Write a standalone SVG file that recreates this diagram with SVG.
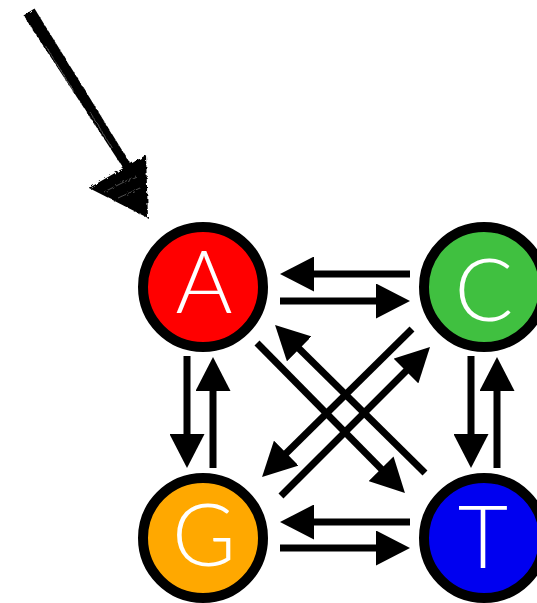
<svg xmlns="http://www.w3.org/2000/svg" width="537" height="603" viewBox="0 0 537 603">
  <style>
    .arrow { stroke: #000; stroke-width: 7; fill: none; marker-end: url(#head); }
    .ring { stroke: #000; stroke-width: 10; }
    .lbl { font-family: "Lato", "Liberation Sans", sans-serif; font-weight: 300; font-size: 87px; fill: #fff; text-anchor: middle; }
  </style>
  <defs>
    <marker id="head" markerUnits="userSpaceOnUse" markerWidth="35" markerHeight="35" refX="4" refY="17.5" orient="auto">
      <path d="M0,0 L34,17.5 L0,35 z" fill="#000"/>
    </marker>
    <filter id="rough" x="-20%" y="-20%" width="140%" height="140%">
      <feTurbulence type="fractalNoise" baseFrequency="0.3" numOctaves="2" seed="3"/>
      <feDisplacementMap in="SourceGraphic" scale="4"/>
    </filter>
  </defs>
  <rect width="537" height="603" fill="#fff"/>

  <g id="pointer" filter="url(#rough)">
    <polygon points="23.5,15.5 34.5,8.5 131.5,165.5 124.5,170" fill="#000"/>
    <polygon points="89,188 146,155 148,218" fill="#000"/>
    <g stroke="#fff" stroke-width="0.7" opacity="0.45">
      <line x1="45" y1="45" x2="75" y2="93"/>
      <line x1="90" y1="112" x2="112" y2="148"/>
      <line x1="104" y1="192" x2="136" y2="176"/>
      <line x1="118" y1="198" x2="140" y2="188"/>
    </g>
  </g>

  <g id="connectors">
    <line class="arrow" x1="410" y1="274" x2="310" y2="274"/>
    <line class="arrow" x1="280" y1="301" x2="380" y2="301"/>
    <line class="arrow" x1="410" y1="522" x2="310" y2="522"/>
    <line class="arrow" x1="280" y1="548" x2="380" y2="548"/>
    <line class="arrow" x1="187" y1="356" x2="187" y2="438"/>
    <line class="arrow" x1="213" y1="468" x2="213" y2="387"/>
    <line class="arrow" x1="471" y1="356" x2="471" y2="438"/>
    <line class="arrow" x1="497" y1="468" x2="497" y2="387"/>
    <line class="arrow" x1="257" y1="343" x2="383.9" y2="471.6"/>
    <line class="arrow" x1="425" y1="473" x2="296.4" y2="346.1"/>
    <line class="arrow" x1="412" y1="329" x2="283.4" y2="455.9"/>
    <line class="arrow" x1="281" y1="496" x2="408.8" y2="368.2"/>
  </g>

  <g id="node-A">
    <circle class="ring" cx="203" cy="287" r="60" fill="#ff0000"/>
    <text class="lbl" x="204" y="313">A</text>
  </g>
  <g id="node-C">
    <circle class="ring" cx="484" cy="287" r="60" fill="#40c040"/>
    <text class="lbl" x="484" y="321">C</text>
  </g>
  <g id="node-G">
    <circle class="ring" cx="203" cy="538" r="60" fill="#ffa800"/>
    <text class="lbl" x="204" y="566">G</text>
  </g>
  <g id="node-T">
    <circle class="ring" cx="484" cy="538" r="60" fill="#0000f0"/>
    <text class="lbl" x="483" y="568">T</text>
  </g>
</svg>
